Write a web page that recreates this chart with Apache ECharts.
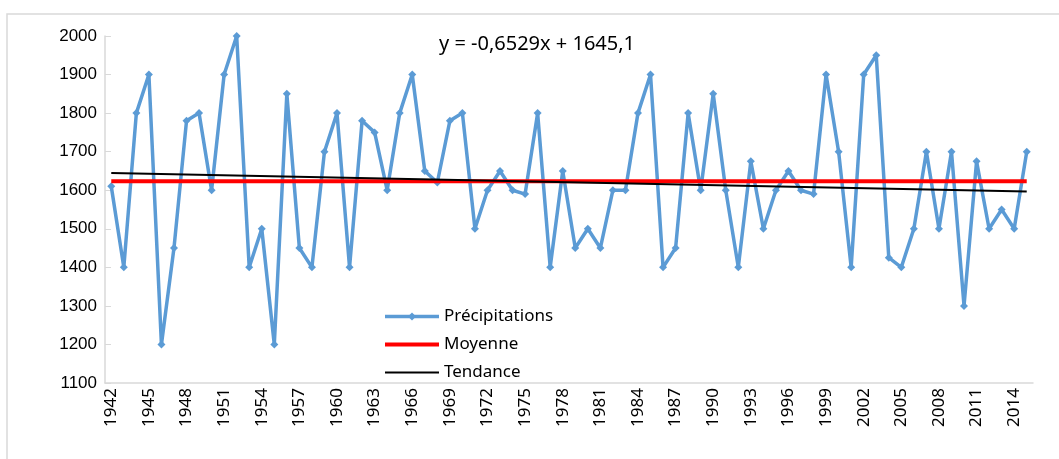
<!DOCTYPE html>
<html>
<head>
<meta charset="utf-8">
<script src="https://cdn.jsdelivr.net/npm/echarts@6/dist/echarts.min.js"></script>
<style>
  html, body { margin: 0; padding: 0; background: #fff; }
  #chart { width: 1059px; height: 459px; }
</style>
</head>
<body>
<div id="chart"></div>
<script>
const years = [];
for (let y = 1942; y <= 2015; y++) years.push(String(y));

const precipitations = [
  1610, 1400, 1800, 1900, 1200, 1450, 1780, 1800, 1600, 1900,
  2000, 1400, 1500, 1200, 1850, 1450, 1400, 1700, 1800, 1400,
  1780, 1750, 1600, 1800, 1900, 1650, 1620, 1780, 1800, 1500,
  1600, 1650, 1600, 1590, 1800, 1400, 1650, 1450, 1500, 1450,
  1600, 1600, 1800, 1900, 1400, 1450, 1800, 1600, 1850, 1600,
  1400, 1675, 1500, 1600, 1650, 1600, 1590, 1900, 1700, 1400,
  1900, 1950, 1425, 1400, 1500, 1700, 1500, 1700, 1300, 1675,
  1500, 1550, 1500, 1700
];

const moyenne = 1623;
const trendSlope = -0.6529;
const trendIntercept = 1645.1;
const yTicks = { min: 1100, max: 2000, interval: 100 };

const last = years.length - 1;
const trendData = [
  [0, trendIntercept + trendSlope * 1],
  [last, trendIntercept + trendSlope * years.length]
];
const moyenneData = [[0, moyenne], [last, moyenne]];

const font = '"Noto Sans", "Open Sans", sans-serif';

const option = {
  animation: false,
  backgroundColor: '#fff',
  grid: { left: 105, right: 26, top: 36, bottom: 76 },
  legend: {
    orient: 'vertical',
    left: 383,
    top: 308,
    padding: 0,
    itemWidth: 54,
    itemHeight: 10,
    itemGap: 11,
    textStyle: { fontFamily: font, fontSize: 17, color: '#000' },
    data: [
      { name: 'Précipitations', lineStyle: { width: 3.5 } },
      { name: 'Moyenne', itemStyle: { opacity: 0 }, lineStyle: { width: 4 } },
      { name: 'Tendance', itemStyle: { opacity: 0 }, lineStyle: { width: 2 } }
    ]
  },
  xAxis: {
    type: 'category',
    data: years,
    boundaryGap: true,
    axisLine: { lineStyle: { color: '#d9d9d9', width: 1.5 } },
    axisTick: { show: false },
    axisLabel: {
      interval: 2,
      rotate: 90,
      margin: 5,
      fontFamily: font,
      fontSize: 17,
      color: '#000'
    }
  },
  yAxis: {
    type: 'value',
    min: yTicks.min,
    max: yTicks.max,
    interval: yTicks.interval,
    splitLine: { show: false },
    axisLine: { show: true, lineStyle: { color: '#d9d9d9', width: 1.5 } },
    axisTick: { show: true, inside: true, length: 6, lineStyle: { color: '#d9d9d9' } },
    axisLabel: {
      margin: 8,
      formatter: v => String(v),
      fontFamily: '"Liberation Sans", Arial, sans-serif',
      fontSize: 17,
      color: '#000'
    }
  },
  series: [
    {
      name: 'Précipitations',
      type: 'line',
      data: precipitations,
      symbol: 'diamond',
      symbolSize: 8,
      z: 3,
      lineStyle: { color: '#5b9bd5', width: 3.5 },
      itemStyle: { color: '#5b9bd5' }
    },
    {
      name: 'Moyenne',
      type: 'line',
      data: moyenneData,
      symbol: 'none',
      z: 4,
      lineStyle: { color: '#ff0000', width: 4 },
      itemStyle: { color: '#ff0000' }
    },
    {
      name: 'Tendance',
      type: 'line',
      data: trendData,
      symbol: 'none',
      z: 5,
      lineStyle: { color: '#000', width: 2 },
      itemStyle: { color: '#000' }
    }
  ],
  graphic: [
    {
      type: 'rect',
      silent: true,
      z: -1,
      shape: { x: 7, y: 14, width: 1100, height: 500 },
      style: { fill: null, stroke: '#d9d9d9', lineWidth: 1.5 }
    },
    {
      type: 'text',
      left: 439,
      top: 34,
      style: {
        text: 'y = -0,6529x + 1645,1',
        fontFamily: font,
        fontSize: 20,
        fill: '#000'
      }
    }
  ]
};

const chart = echarts.init(document.getElementById('chart'));
chart.setOption(option);
</script>
</body>
</html>
